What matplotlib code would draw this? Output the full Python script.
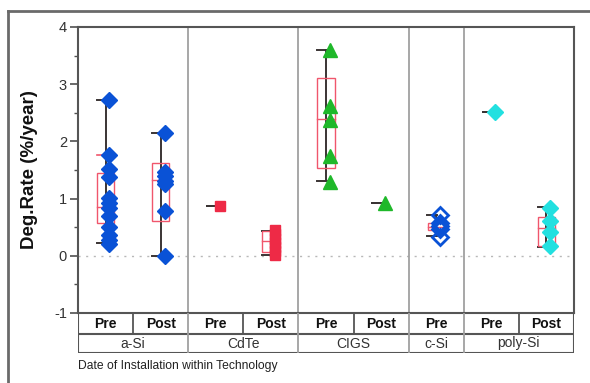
import numpy as np
import matplotlib.pyplot as plt
from matplotlib.lines import Line2D

plt.rcParams['font.family'] = ['Liberation Sans', 'DejaVu Sans']
plt.rcParams['axes.unicode_minus'] = False

# Slots: one per technology / install period
techs = ['a-Si', 'CdTe', 'CIGS', 'c-Si', 'poly-Si']
tech_slots = [2, 2, 2, 1, 2]
periods = ['Pre', 'Post', 'Pre', 'Post', 'Pre', 'Post', 'Pre', 'Pre', 'Post']

# degradation rates per slot (%/year)
vals_asi_pre = [2.73, 1.76, 1.51, 1.38, 1.01, 0.92, 0.83, 0.69, 0.51, 0.37, 0.28, 0.20]
vals_asi_post = [2.14, 1.47, 1.39, 1.30, 1.25, 0.78, 0.0]
vals_cdte_pre = [0.87]
vals_cdte_post = [0.45, 0.38, 0.30, 0.22, 0.15, 0.08, 0.02]
vals_cigs_pre = [3.60, 2.62, 2.38, 1.74, 1.29]
vals_cigs_post = [0.93]
vals_csi_pre = [0.72, 0.58, 0.52, 0.46, 0.33]
vals_psi_pre = [2.52]
vals_psi_post = [0.84, 0.60, 0.42, 0.18]

slot_vals = [vals_asi_pre, vals_asi_post, vals_cdte_pre, vals_cdte_post,
             vals_cigs_pre, vals_cigs_post, vals_csi_pre, vals_psi_pre, vals_psi_post]

# box stats (None = no box)
box_q1 = [0.58, 0.60, None, 0.06, 1.54, None, 0.45, None, 0.17]
box_med = [0.86, 1.33, None, 0.25, 2.39, None, 0.50, None, 0.48]
box_q3 = [1.44, 1.63, None, 0.44, 3.11, None, 0.57, None, 0.67]
whisk_lo = [0.22, 0.0, 0.87, 0.02, 1.30, 0.93, 0.34, 2.52, 0.16]
whisk_hi = [2.73, 2.14, 0.87, 0.44, 3.60, 0.93, 0.72, 2.52, 0.86]

# marker style per technology
colors = ['#0a52d6', '#0a52d6', '#ee2a46', '#ee2a46', '#1fb82a', '#1fb82a',
          '#0a52d6', '#22e0e0', '#22e0e0']
markers = ['D', 'D', 's', 's', '^', '^', 'D', 'D', 'D']
hollow = [False] * 6 + [True] + [False] * 2

box_col = '#f0566c'
whisk_col = '#3a3434'

fig = plt.figure(figsize=(5.9, 3.83), dpi=100)
W, H = 590, 383
ax = fig.add_axes([78 / W, 1 - 313 / H, 496 / W, 286 / H])

for i, v in enumerate(slot_vals):
    c = i + 0.5
    # whisker line and left caps
    ax.plot([c, c], [whisk_lo[i], whisk_hi[i]], color=whisk_col, lw=1.4, zorder=2)
    for yv in (whisk_lo[i], whisk_hi[i]):
        ax.plot([c - 0.16, c + 0.02], [yv, yv], color=whisk_col, lw=1.4, zorder=2)
    if box_q1[i] is not None:
        ax.add_patch(plt.Rectangle((c - 0.155, box_q1[i]), 0.31, box_q3[i] - box_q1[i],
                                   fill=False, ec=box_col, lw=1.0, zorder=3))
        ax.plot([c - 0.155, c + 0.155], [box_med[i], box_med[i]], color=box_col, lw=1.0, zorder=3)
    x = np.full(len(v), c + 0.07)
    ms = {'D': 8.5, 's': 7.5, '^': 9.5}[markers[i]]
    if hollow[i]:
        ax.plot(x, v, ls='none', marker=markers[i], ms=ms, mfc='none', mec=colors[i],
                mew=2, zorder=4)
    else:
        ax.plot(x, v, ls='none', marker=markers[i], ms=ms, color=colors[i], mec=colors[i],
                zorder=4)

# extra 90% tick on a-Si Pre
ax.plot([0.5 - 0.16, 0.5], [1.76, 1.76], color=box_col, lw=1.2, zorder=2)

ax.axhline(0, color='#b8b8b8', lw=1, ls=(0, (1.5, 4)), zorder=1)

# technology separators
for b in np.cumsum(tech_slots)[:-1]:
    ax.axvline(b, color='#a0a0a0', lw=1.3, zorder=1)

ax.set_xlim(0, 9)
ax.set_ylim(-1, 4)
ax.set_xticks([])
ax.set_yticks(range(-1, 5))
ax.set_yticks(np.arange(-0.5, 4, 1.0), minor=True)
ax.tick_params(axis='y', which='major', length=6, width=1.2, colors='#505050',
               labelcolor='#333333', labelsize=10.5, pad=2)
ax.tick_params(axis='y', which='minor', length=3, width=1.0, colors='#505050')
for s in ax.spines.values():
    s.set_color('#555555')
    s.set_linewidth(1.5)

fig.text(30 / W, 1 - 170 / H, 'Deg.Rate (%/year)', rotation=90, ha='center', va='center',
         fontsize=13.5, fontweight='bold', color='#111111')

# category table below the plot
tax = fig.add_axes([78 / W, 1 - 353 / H, 496 / W, 40 / H])
tax.set_xlim(0, 9)
tax.set_ylim(0, 40)
tax.axis('off')
edge = '#555555'
tax.plot([0, 9], [19, 19], color=edge, lw=1.5)
tax.plot([0, 9], [0, 0], color=edge, lw=1.5)
tax.plot([0, 0], [0, 40], color=edge, lw=1.5)
tax.plot([9, 9], [0, 40], color=edge, lw=1.5)
for b in [1, 3, 5, 8]:
    tax.plot([b, b], [19, 40], color=edge, lw=1.3)
for b in np.cumsum(tech_slots)[:-1]:
    tax.plot([b, b], [0, 40], color='#a0a0a0', lw=1.3)
for i, p in enumerate(periods):
    tax.text(i + 0.5, 29.5, p, ha='center', va='center', fontsize=10, fontweight='bold',
             color='#111111')
start = 0
for t, n in zip(techs, tech_slots):
    tax.text(start + n / 2, 9.5, t, ha='center', va='center', fontsize=10, color='#333333')
    start += n

fig.text(78 / W, 1 - 366 / H, 'Date of Installation within Technology', ha='left',
         va='center', fontsize=8.7, color='#222222')

# outer frame (top and left edges visible)
fig.add_artist(Line2D([8 / W, 1], [1 - 11 / H, 1 - 11 / H], color='#6a6a6a', lw=2))
fig.add_artist(Line2D([8 / W, 8 / W], [0, 1 - 11 / H], color='#6a6a6a', lw=2))

fig.savefig('out.png', dpi=100)
